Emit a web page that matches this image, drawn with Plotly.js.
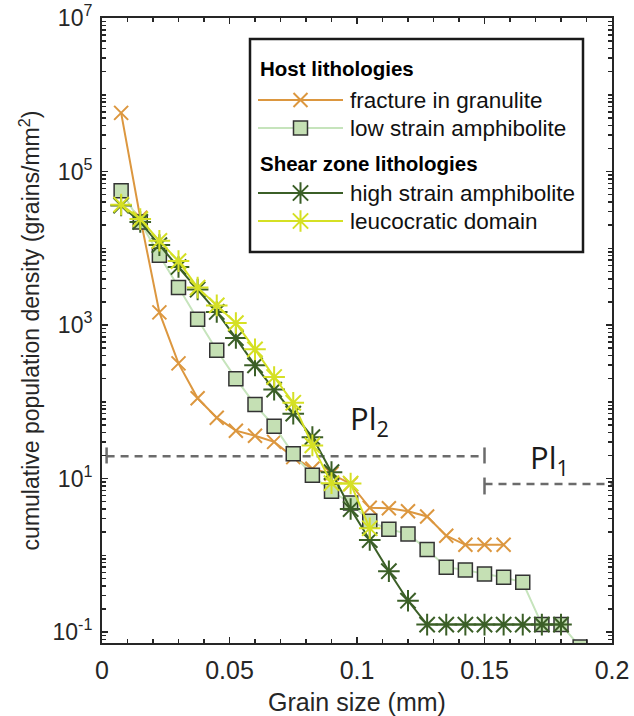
<!DOCTYPE html>
<html><head><meta charset="utf-8">
<script src="https://cdn.plot.ly/plotly-3.0.1.min.js"></script>
<style>html,body{margin:0;padding:0;background:#fff;}#chart{width:634px;height:716px;}</style>
</head><body><div id="chart"></div>
<script>
// Grain size bins (mm)
const grainSize = [0.0075, 0.015, 0.0225, 0.03, 0.0375, 0.045, 0.0525, 0.06, 0.0675, 0.075,
  0.0825, 0.09, 0.0975, 0.105, 0.1125, 0.12, 0.1275, 0.135, 0.1425, 0.15,
  0.1575, 0.165, 0.1725, 0.18, 0.1875];
// cumulative population density (grains/mm^2)
const fractureGranulite = [5.8e5, 2.5e4, 1460, 316, 111, 62, 42, 36, 30, 19,
  13.4, 11.5, 8.5, 4.15, 4.1, 3.75, 3.2, 1.8, 1.37, 1.37, 1.37];
const lowStrainAmphibolite = [5.6e4, 2.2e4, 8100, 3070, 1190, 468, 200, 92, 48, 21,
  11, 6.8, 4.8, 2.77, 2.18, 1.9, 1.19, 0.70, 0.645, 0.57,
  0.516, 0.445, 0.125, 0.125, 0.064];
const highStrainAmphibolite = [3.6e4, 2.2e4, 1.1e4, 5700, 2900, 1480, 676, 298, 144, 70,
  34.6, 12.1, 4.0, 1.58, 0.62, 0.256, 0.125, 0.125, 0.125, 0.125,
  0.125, 0.125, 0.125, 0.125];
const leucocraticDomain = [3.7e4, 2.4e4, 1.25e4, 6800, 3070, 1800, 1060, 482, 210, 97,
  27, 8.7, 8.6, 2.25];

// Plagioclase population boundaries
const pl2X = [0.0018, 0.15];
const pl2Y = [19.5, 19.5];
const pl1X = [0.15, 0.2];
const pl1Y = [8.5, 8.5];
const capX = [0.0018, 0.0018, null, 0.15, 0.15, null, 0.15, 0.15];
const capY = [15.7, 25.4, null, 15.7, 25.4, null, 6.2, 10.3];

const seriesNames = ['fracture in granulite', 'low strain amphibolite', 'high strain amphibolite', 'leucocratic domain'];
const groupTitles = ['Host lithologies', 'Shear zone lithologies'];

const xTickVals = [0, 0.05, 0.1, 0.15, 0.2];
const xTickText = ['0', '0.05', '0.1', '0.15', '0.2'];
const yTickVals = [0.1, 10, 1e3, 1e5, 1e7];
const yTickText = ['10<sup>-1</sup>', '10<sup>1</sup>', '10<sup>3</sup>', '10<sup>5</sup>', '10<sup>7</sup>'];

const ORANGE = '#DC973F', LGREEN_LINE = '#C6E4BC', LGREEN_FILL = '#C5E0B4', DGREEN = '#3B5F27', YELLOW = '#D5E024', GREY = '#6B6B6B', AX = '#262626';
const FONT = "'Liberation Sans', Arial, Helvetica, sans-serif";

const slice = n => grainSize.slice(0, n);

const styles = [
  {line: {color: ORANGE, width: 2}, marker: {symbol: 'x-thin-open', size: 14, color: ORANGE, line: {color: ORANGE, width: 2}}},
  {line: {color: LGREEN_LINE, width: 2}, marker: {symbol: 'square', size: 14, color: LGREEN_FILL, line: {color: '#333333', width: 1.5}}},
  {line: {color: DGREEN, width: 2}, marker: {symbol: 'asterisk-open', size: 18, color: DGREEN, line: {color: DGREEN, width: 2}}},
  {line: {color: YELLOW, width: 2}, marker: {symbol: 'asterisk-open', size: 18, color: YELLOW, line: {color: YELLOW, width: 2}}}
];
const seriesData = [fractureGranulite, lowStrainAmphibolite, highStrainAmphibolite, leucocraticDomain];

const traces = [];
traces.push({x: pl2X, y: pl2Y, mode: 'lines', line: {color: GREY, width: 2.5, dash: '8px,6px'}, hoverinfo: 'skip'});
traces.push({x: pl1X, y: pl1Y, mode: 'lines', line: {color: GREY, width: 2.5, dash: '8px,6px'}, hoverinfo: 'skip'});
traces.push({x: capX, y: capY, mode: 'lines', line: {color: GREY, width: 2.5}, hoverinfo: 'skip', connectgaps: false});

seriesData.forEach((d, i) => {
  traces.push(Object.assign({x: slice(d.length), y: d, mode: 'lines+markers', name: seriesNames[i], cliponaxis: true}, styles[i]));
});

// Legend samples drawn on an overlay pixel-space axis
const legRows = [100, 128, 193, 221];
const sampleX0 = 258, sampleX1 = 343, sampleXm = 300.5;
legRows.forEach((ry, i) => {
  traces.push({x: [sampleX0, sampleX1], y: [ry, ry], xaxis: 'x2', yaxis: 'y2', mode: 'lines', line: styles[i].line, hoverinfo: 'skip'});
  traces.push({x: [sampleXm], y: [ry], xaxis: 'x2', yaxis: 'y2', mode: 'markers', marker: styles[i].marker, hoverinfo: 'skip'});
});

const annotations = [];
const headerRows = [68, 163];
groupTitles.forEach((t, i) => annotations.push({xref: 'x2', yref: 'y2', x: 258, y: headerRows[i], text: '<b>' + t + '</b>', showarrow: false, xanchor: 'left', yanchor: 'middle', font: {family: FONT, size: 20.5, color: '#000'}}));
seriesNames.forEach((t, i) => annotations.push({xref: 'x2', yref: 'y2', x: 348, y: legRows[i], text: t, showarrow: false, xanchor: 'left', yanchor: 'middle', font: {family: FONT, size: 22.5, color: '#111'}}));
annotations.push({xref: 'x2', yref: 'y2', x: 348, y: 420, text: 'Pl<sub>2</sub>', showarrow: false, xanchor: 'left', yanchor: 'middle', font: {family: "'Open Sans', 'Noto Sans', sans-serif", size: 31, color: '#1a1a1a'}});
annotations.push({xref: 'x2', yref: 'y2', x: 528, y: 459, text: 'Pl<sub>1</sub>', showarrow: false, xanchor: 'left', yanchor: 'middle', font: {family: "'Open Sans', 'Noto Sans', sans-serif", size: 31, color: '#1a1a1a'}});

// minor log ticks (2..9 per decade plus the unlabeled decades)
const yMinor = [];
for (let e = -2; e < 7; e++) for (let m = 1; m <= 9; m++) {
  if (m === 1 && e % 2 !== 0) continue;
  yMinor.push(m * Math.pow(10, e));
}

const layout = {
  width: 634, height: 716,
  margin: {l: 102, r: 22, t: 18, b: 73, pad: 0},
  paper_bgcolor: '#fff', plot_bgcolor: '#fff',
  showlegend: false,
  font: {family: FONT, size: 23, color: AX},
  xaxis: {
    range: [0, 0.2], tickmode: 'array', tickvals: xTickVals, ticktext: xTickText,
    ticks: 'inside', ticklen: 6, tickwidth: 1.5, tickcolor: AX, tickfont: {family: FONT, size: 25}, ticklabelstandoff: 4,
    showline: true, linecolor: AX, linewidth: 2, mirror: 'ticks', showgrid: false, zeroline: false,
    minor: {tickmode: 'linear', tick0: 0, dtick: 0.01, ticks: 'inside', ticklen: 4, tickwidth: 1.5, tickcolor: AX, showgrid: false},
    title: {text: 'Grain size (mm)', font: {family: FONT, size: 25}, standoff: 16}
  },
  yaxis: {
    type: 'log', range: [-1.143, 7], tickmode: 'array', tickvals: yTickVals, ticktext: yTickText,
    ticks: 'inside', ticklen: 6, tickwidth: 1.5, tickcolor: AX, tickfont: {family: FONT, size: 23}, ticklabelstandoff: 3,
    showline: true, linecolor: AX, linewidth: 2, mirror: 'ticks', showgrid: false, zeroline: false,
    minor: {tickmode: 'array', tickvals: yMinor, ticks: 'inside', ticklen: 4, tickwidth: 1.5, tickcolor: AX, showgrid: false},
    title: {text: 'cumulative population density (grains/mm<sup>2</sup>)', font: {family: FONT, size: 23}, standoff: 6}
  },
  xaxis2: {overlaying: 'x', anchor: 'y2', range: [102, 612], visible: false, fixedrange: true},
  yaxis2: {overlaying: 'y', anchor: 'x2', range: [643, 18], visible: false, fixedrange: true},
  shapes: [{type: 'rect', xref: 'x2', yref: 'y2', x0: 250, x1: 583, y0: 39, y1: 252, line: {color: '#1a1a1a', width: 2.5}, fillcolor: '#fff', layer: 'below'}],
  annotations: annotations
};

Plotly.newPlot('chart', traces, layout, {staticPlot: true, displayModeBar: false});
</script>
</body></html>
